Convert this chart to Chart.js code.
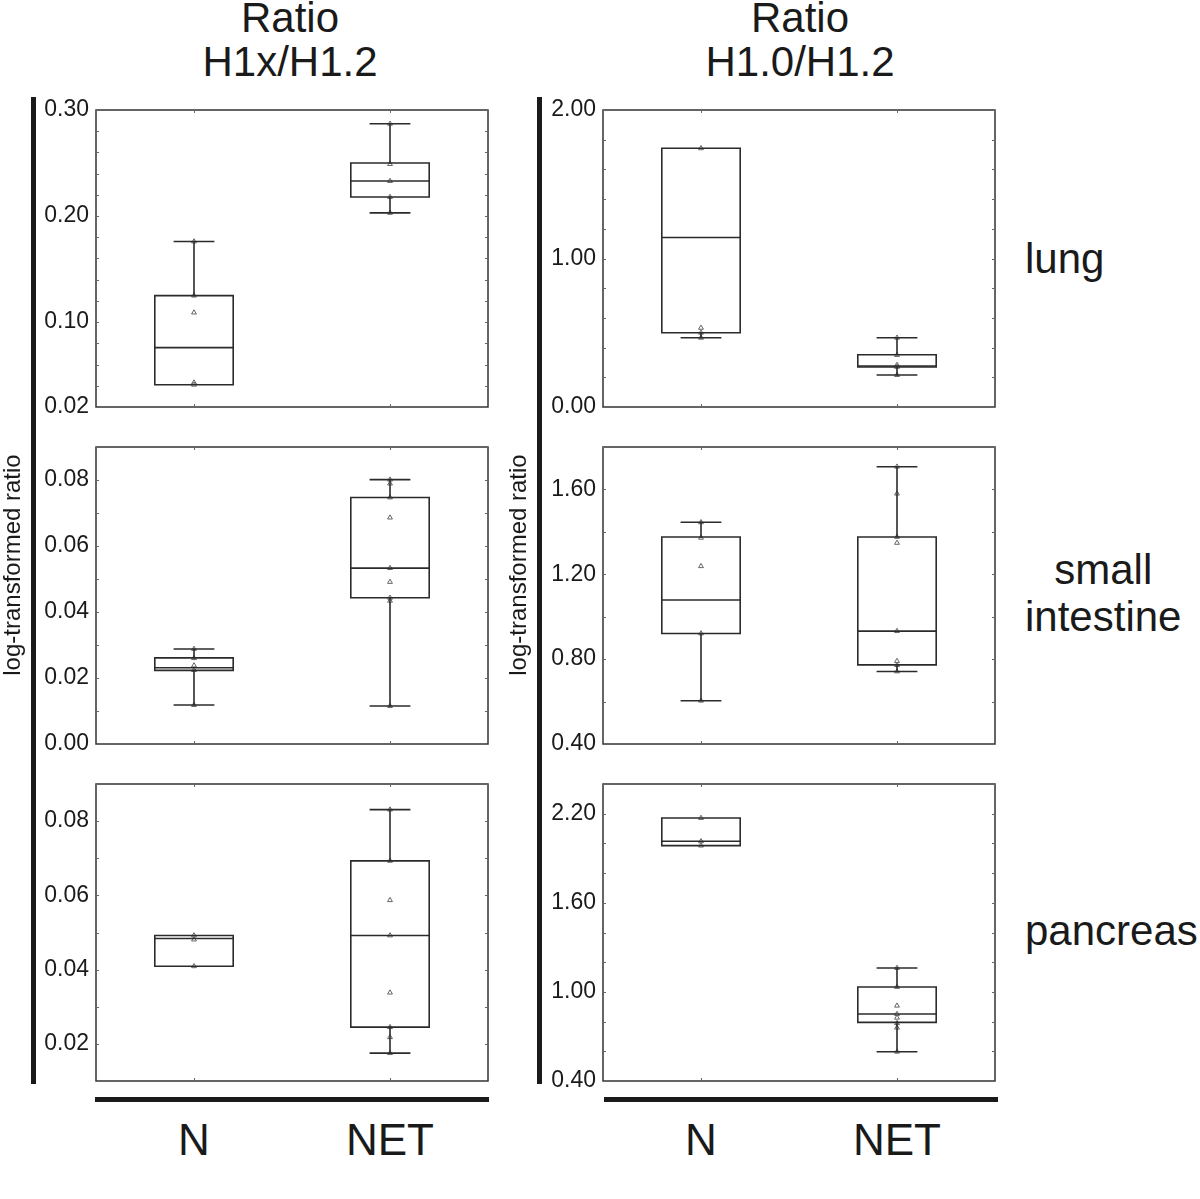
<!DOCTYPE html>
<html>
<head>
<meta charset="utf-8">
<script src="https://cdn.jsdelivr.net/npm/chart.js@4"></script>
<style>
body { margin: 0; background: #fff; }
#fig { position: relative; width: 1200px; height: 1199px; font-family: "Liberation Sans", Arial, sans-serif; color: #1a1a1a; overflow: hidden; }
.t { position: absolute; white-space: pre; }
.bar { position: absolute; background: #1a1a1a; }
canvas { position: absolute; }
</style>
</head>
<body>
<div id="fig"></div>
<script>
const groups = ['N', 'NET']
const groupX = [1, 3]
const ratios = ['Ratio\nH1x/H1.2', 'Ratio\nH1.0/H1.2']
const tissues = ['lung', 'small\nintestine', 'pancreas']
const yTitle = 'log-transformed ratio'

// box stats: min, q1, median, q3, max
const h1xLungN = [0.041, 0.041, 0.076, 0.125, 0.176]
const h1xLungNET = [0.203, 0.218, 0.233, 0.250, 0.287]
const h1xLungNPts = [0.176, 0.125, 0.109, 0.043, 0.041]
const h1xLungNETPts = [0.287, 0.249, 0.233, 0.218, 0.203]
const h1xLungTicks = ['0.02', '0.10', '0.20', '0.30']

const h1xIntN = [0.0118, 0.0223, 0.0231, 0.0261, 0.0288]
const h1xIntNET = [0.0115, 0.0443, 0.0533, 0.0747, 0.0801]
const h1xIntNPts = [0.0288, 0.026, 0.0238, 0.0224, 0.0118]
const h1xIntNETPts = [0.0801, 0.0789, 0.0747, 0.0686, 0.0533, 0.0491, 0.0443, 0.0434, 0.0115]
const h1xIntTicks = ['0.00', '0.02', '0.04', '0.06', '0.08']

const h1xPanN = [0.0409, 0.0409, 0.0484, 0.0492, 0.0492]
const h1xPanNET = [0.0175, 0.0245, 0.0492, 0.0693, 0.0831]
const h1xPanNPts = [0.0492, 0.0481, 0.0409]
const h1xPanNETPts = [0.0831, 0.0693, 0.0587, 0.0492, 0.0338, 0.0245, 0.0218, 0.0175]
const h1xPanTicks = ['0.02', '0.04', '0.06', '0.08']

const h10LungN = [0.466, 0.500, 1.141, 1.742, 1.742]
const h10LungNET = [0.215, 0.269, 0.276, 0.352, 0.466]
const h10LungNPts = [1.742, 0.533, 0.500, 0.466]
const h10LungNETPts = [0.466, 0.350, 0.283, 0.270, 0.215]
const h10LungTicks = ['0.00', '1.00', '2.00']

const h10IntN = [0.604, 0.921, 1.079, 1.376, 1.445]
const h10IntNET = [0.742, 0.773, 0.932, 1.376, 1.707]
const h10IntNPts = [1.445, 1.372, 1.238, 0.921, 0.604]
const h10IntNETPts = [1.707, 1.580, 1.376, 1.348, 0.932, 0.791, 0.772, 0.742]
const h10IntTicks = ['0.40', '0.80', '1.20', '1.60']

const h10PanN = [1.985, 1.985, 2.014, 2.171, 2.171]
const h10PanNET = [0.597, 0.795, 0.851, 1.033, 1.161]
const h10PanNPts = [2.171, 2.014, 1.985]
const h10PanNETPts = [1.161, 1.033, 0.907, 0.851, 0.826, 0.789, 0.759, 0.597]
const h10PanTicks = ['0.40', '1.00', '1.60', '2.20']

// axis ranges: min, max, minor step
const panels = [
    { col: 0, row: 0, range: [0.02, 0.30, 0.02], ticks: h1xLungTicks, boxes: [h1xLungN, h1xLungNET], pts: [h1xLungNPts, h1xLungNETPts] },
    { col: 0, row: 1, range: [0.00, 0.09, 0.01], ticks: h1xIntTicks, boxes: [h1xIntN, h1xIntNET], pts: [h1xIntNPts, h1xIntNETPts] },
    { col: 0, row: 2, range: [0.01, 0.09, 0.01], ticks: h1xPanTicks, boxes: [h1xPanN, h1xPanNET], pts: [h1xPanNPts, h1xPanNETPts] },
    { col: 1, row: 0, range: [0.00, 2.00, 0.2], ticks: h10LungTicks, boxes: [h10LungN, h10LungNET], pts: [h10LungNPts, h10LungNETPts] },
    { col: 1, row: 1, range: [0.40, 1.80, 0.2], ticks: h10IntTicks, boxes: [h10IntN, h10IntNET], pts: [h10IntNPts, h10IntNETPts] },
    { col: 1, row: 2, range: [0.40, 2.40, 0.2], ticks: h10PanTicks, boxes: [h10PanN, h10PanNET], pts: [h10PanNPts, h10PanNETPts] },
]

const plotLeft = [96, 603]
const plotTop = [110, 447, 784]
const PW = 392
const PH = 297
const AXW = 60
const PAD = 24
const BOX = 0.4
const CAP = 0.2

const fig = document.getElementById('fig')

function addText(txt, css) {
    const d = document.createElement('div')
    d.className = 't'
    d.textContent = txt
    Object.assign(d.style, css)
    fig.appendChild(d)
}

function addBar(l, t, w, h) {
    const d = document.createElement('div')
    d.className = 'bar'
    Object.assign(d.style, { left: l + 'px', top: t + 'px', width: w + 'px', height: h + 'px' })
    fig.appendChild(d)
}

const frame = {
    id: 'frame',
    afterDatasetsDraw(chart) {
        const { ctx, chartArea: a, scales } = chart
        ctx.save()
        ctx.strokeStyle = '#333'
        ctx.lineWidth = 1.5
        ctx.strokeRect(a.left, a.top, a.right - a.left, a.bottom - a.top)
        ctx.lineWidth = 1
        ctx.strokeStyle = '#666'
        ctx.beginPath()
        scales.y.ticks.forEach((t) => {
            const py = Math.round(scales.y.getPixelForValue(t.value)) + 0.5
            ctx.moveTo(a.left, py); ctx.lineTo(a.left + 3, py)
            ctx.moveTo(a.right - 3, py); ctx.lineTo(a.right, py)
        })
        groupX.forEach((v) => {
            const px = Math.round(scales.x.getPixelForValue(v)) + 0.5
            ctx.moveTo(px, a.top); ctx.lineTo(px, a.top + 3)
            ctx.moveTo(px, a.bottom - 3); ctx.lineTo(px, a.bottom)
        })
        ctx.stroke()
        ctx.restore()
    },
}

const lineStyle = {
    showLine: true,
    borderColor: '#2b2b2b',
    borderWidth: 1.6,
    pointRadius: 0,
    fill: false,
    tension: 0,
    spanGaps: false,
    borderJoinStyle: 'miter',
    borderCapStyle: 'square',
}

function boxSets(x, s) {
    const [mn, q1, md, q3, mx] = s
    const sets = [
        { ...lineStyle, data: [{ x: x - BOX, y: q1 }, { x: x + BOX, y: q1 }, { x: x + BOX, y: q3 }, { x: x - BOX, y: q3 }, { x: x - BOX, y: q1 }] },
        { ...lineStyle, data: [{ x: x - BOX, y: md }, { x: x + BOX, y: md }] },
    ]
    if (mx > q3) {
        sets.push({ ...lineStyle, data: [{ x: x, y: q3 }, { x: x, y: mx }] })
        sets.push({ ...lineStyle, data: [{ x: x - CAP, y: mx }, { x: x + CAP, y: mx }] })
    }
    if (mn < q1) {
        sets.push({ ...lineStyle, data: [{ x: x, y: q1 }, { x: x, y: mn }] })
        sets.push({ ...lineStyle, data: [{ x: x - CAP, y: mn }, { x: x + CAP, y: mn }] })
    }
    return sets
}

function pointSet(x, vals) {
    return {
        data: vals.map((v) => ({ x: x, y: v })),
        showLine: false,
        pointStyle: 'triangle',
        pointRadius: 2.8,
        pointBorderWidth: 0.9,
        pointBorderColor: '#555',
        pointBackgroundColor: '#fff',
    }
}

panels.forEach((p) => {
    const cv = document.createElement('canvas')
    cv.width = AXW + PW + 6
    cv.height = PH + 2 * PAD
    cv.style.left = (plotLeft[p.col] - AXW) + 'px'
    cv.style.top = (plotTop[p.row] - PAD) + 'px'
    fig.appendChild(cv)

    const [ymin, ymax, step] = p.range
    let datasets = []
    groupX.forEach((x, i) => { datasets = datasets.concat(boxSets(x, p.boxes[i])) })
    groupX.forEach((x, i) => { datasets.push(pointSet(x, p.pts[i])) })

    new Chart(cv, {
        type: 'scatter',
        data: { datasets: datasets },
        options: {
            responsive: false,
            animation: false,
            devicePixelRatio: 1,
            layout: { padding: { top: PAD, bottom: PAD, right: 6, left: 0 } },
            plugins: { legend: { display: false }, tooltip: { enabled: false } },
            scales: {
                x: { type: 'linear', min: 0, max: 4, display: false },
                y: {
                    min: ymin,
                    max: ymax,
                    grid: { display: false, drawTicks: false },
                    border: { display: false },
                    ticks: {
                        padding: 7,
                        autoSkip: false,
                        color: '#1a1a1a',
                        font: { family: 'Liberation Sans', size: 23 },
                        callback: (v) => {
                            const s = Number(v).toFixed(2)
                            return p.ticks.includes(s) ? s : ''
                        },
                    },
                    afterBuildTicks: (sc) => {
                        const t = []
                        for (let i = 0; ; i++) {
                            const v = +(ymin + i * step).toFixed(4)
                            if (v > ymax + 1e-9) break
                            t.push({ value: v })
                        }
                        sc.ticks = t
                    },
                    afterFit: (sc) => { sc.width = AXW },
                },
            },
        },
        plugins: [frame],
    })
})

// column titles
const titleX = [290, 800]
ratios.forEach((r, i) => {
    addText(r, { left: (titleX[i] - 200) + 'px', top: '-4px', width: '400px', textAlign: 'center', fontSize: '42px', lineHeight: '44px' })
})

// row labels
const rowY = [258, 593, 930]
tissues.forEach((t, i) => {
    const lines = t.split('\n').length
    addText(t, { left: '1025px', top: (rowY[i] - lines * 23.5) + 'px', textAlign: 'center', fontSize: '42px', lineHeight: '47px' })
})

// y titles
;[12, 518].forEach((cx) => {
    addText(yTitle, { left: cx + 'px', top: '565px', fontSize: '24px', lineHeight: '24px', transform: 'translate(-50%, -50%) rotate(-90deg)' })
})

// thick axis bars
addBar(31, 97, 5, 987)
addBar(537, 97, 5, 987)
addBar(95, 1097, 394, 5)
addBar(604, 1097, 394, 5)

// group labels
plotLeft.forEach((l) => {
    groups.forEach((g, i) => {
        const cx = l + (groupX[i] / 4) * PW
        addText(g, { left: cx + 'px', top: '1140px', fontSize: '44px', lineHeight: '44px', fontFamily: '"Liberation Sans Narrow", "Liberation Sans", sans-serif', transform: 'translate(-50%, -50%)' })
    })
})
</script>
</body>
</html>
